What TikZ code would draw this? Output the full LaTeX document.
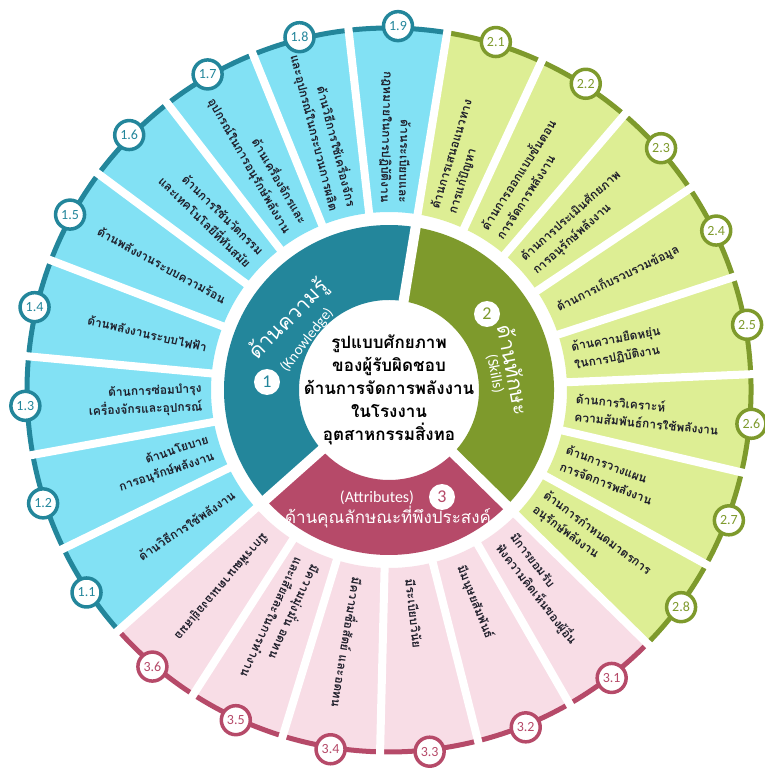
\documentclass[tikz,border=0pt]{standalone}
\usepackage{fontspec}
\setmainfont{Carlito}
\newfontfamily\thai[Script=Thai]{Loma}
\definecolor{kdark}{HTML}{23869B}
\definecolor{klight}{HTML}{82E1F4}
\definecolor{sdark}{HTML}{7E9A2C}
\definecolor{slight}{HTML}{DDEE94}
\definecolor{adark}{HTML}{B64A69}
\definecolor{alight}{HTML}{F8DDE6}
\definecolor{txt}{HTML}{1E1E2A}
\begin{document}
\begin{tikzpicture}[
  wtext/.style={font=\thai\bfseries\fontsize{12}{18}\selectfont, text=txt, inner sep=0pt},
  numc/.style={circle, fill=white, line width=3.5pt, minimum size=29pt, inner sep=0pt, font=\fontsize{14}{14}\selectfont},
  ringnum/.style={circle, fill=white, minimum size=26pt, inner sep=0pt, font=\fontsize{18}{18}\selectfont},
  ringth/.style={font=\thai\fontsize{21}{21}\selectfont, text=white, inner sep=0pt},
  ringen/.style={font=\fontsize{15}{15}\selectfont, text=white, inner sep=0pt},
  sep/.style={white, line width=8pt},
]
\fill[white] (-389pt,-386pt) rectangle (375pt,390pt);
\useasboundingbox (-389pt,-386pt) rectangle (375pt,390pt);

% middle ring
\fill[kdark] (80.69:90pt) arc[start angle=80.69, end angle=221.63, radius=90pt] -- (221.63:165pt) arc[start angle=221.63, end angle=80.69, radius=165pt] -- cycle;
\fill[sdark] (-44.46:90pt) arc[start angle=-44.46, end angle=80.69, radius=90pt] -- (80.69:165pt) arc[start angle=80.69, end angle=-44.46, radius=165pt] -- cycle;
\fill[adark] (221.63:90pt) arc[start angle=221.63, end angle=315.54, radius=90pt] -- (315.54:165pt) arc[start angle=315.54, end angle=221.63, radius=165pt] -- cycle;
\foreach \bb in {80.69,221.63,-44.46}{
  \draw[white, line width=10pt] (\bb:80pt) -- (\bb:172pt);
}

% outer wedges
\foreach \k in {0,...,22}{
  \pgfmathsetmacro\ang{213.8-15.652*\k}
  \pgfmathsetmacro\sa{\ang+7.826}
  \pgfmathsetmacro\ea{\ang-7.826}
  \ifnum\k<9 \def\wc{klight}\else\ifnum\k<17 \def\wc{slight}\else\def\wc{alight}\fi\fi
  \fill[\wc] (\sa:178pt) arc[start angle=\sa, end angle=\ea, radius=178pt] -- (\ea:361pt) arc[start angle=\ea, end angle=\sa, radius=361pt] -- cycle;
}
% outer arcs
\draw[kdark, line width=5pt] (221.63:362pt) arc[start angle=221.63, end angle=80.69, radius=362pt];
\draw[sdark, line width=5pt] (80.69:362pt) arc[start angle=80.69, end angle=-44.46, radius=362pt];
\draw[adark, line width=5pt] (-44.46:362pt) arc[start angle=-44.46, end angle=-138.37, radius=362pt];
% separators
\foreach \j in {0,...,22}{
  \pgfmathsetmacro\bb{221.626-15.652*\j}
  \draw[sep] (\bb:172pt) -- (\bb:372pt);
}

% group 1 texts and circles
\foreach \k/\nm/\txt in {
  0/1.1/{ด้านวิธีการใช้พลังงาน},
  1/1.2/{ด้านนโยบาย\\การอนุรักษ์พลังงาน},
  2/1.3/{ด้านการซ่อมบำรุง\\เครื่องจักรและอุปกรณ์},
  3/1.4/{ด้านพลังงานระบบไฟฟ้า},
  4/1.5/{ด้านพลังงานระบบความร้อน},
  5/1.6/{ด้านการใช้นวัตกรรม\\และเทคโนโลยีที่ทันสมัย},
  6/1.7/{ด้านเครื่องจักรและ\\อุปกรณ์ในการอนุรักษ์พลังงาน},
  7/1.8/{ด้านวิธีการใช้เครื่องจักร\\และอุปกรณ์ในกระบวนการผลิต},
  8/1.9/{ด้านระเบียบและ\\กฎหมายในการปฏิบัติงาน}}{
  \pgfmathsetmacro\ang{213.8-15.652*\k}
  \node[wtext, rotate=\ang-180, anchor=east, align=right] (t\k) at (\ang:187pt) {\txt};
  \node[numc, draw=kdark, text=kdark] (c\k) at (\ang:364pt) {\nm};
}
% group 2
\foreach \k/\nm/\txt in {
  9/2.1/{ด้านการเสนอแนวทาง\\การแก้ปัญหา},
  10/2.2/{ด้านการออกแบบขั้นตอน\\การจัดการพลังงาน},
  11/2.3/{ด้านการประเมินศักยภาพ\\การอนุรักษ์พลังงาน},
  12/2.4/{ด้านการเก็บรวบรวมข้อมูล},
  13/2.5/{ด้านความยืดหยุ่น\\ในการปฏิบัติงาน},
  14/2.6/{ด้านการวิเคราะห์\\ความสัมพันธ์การใช้พลังงาน},
  15/2.7/{ด้านการวางแผน\\การจัดการพลังงาน},
  16/2.8/{ด้านการกำหนดมาตรการ\\อนุรักษ์พลังงาน}}{
  \pgfmathsetmacro\ang{213.8-15.652*\k}
  \node[wtext, rotate=\ang, anchor=west, align=left] (t\k) at (\ang:187pt) {\txt};
  \node[numc, draw=sdark, text=sdark] (c\k) at (\ang:364pt) {\nm};
}
% group 3
\foreach \k/\nm/\txt in {
  17/3.1/{มีการยอมรับ\\ฟังความคิดเห็นของผู้อื่น},
  18/3.2/{มีมนุษยสัมพันธ์},
  19/3.3/{มีระเบียบวินัย},
  20/3.4/{มีความซื่อสัตย์ และอดทน},
  21/3.5/{มีความมุ่งมั่น อดทน\\และเสียสละในการทำงาน},
  22/3.6/{มีการพัฒนาตนเองอยู่เสมอ}}{
  \pgfmathsetmacro\ang{213.8-15.652*\k}
  \node[wtext, rotate=\ang, anchor=west, align=left] (t\k) at (\ang:190pt) {\txt};
  \node[numc, draw=adark, text=adark] (c\k) at (\ang:364pt) {\nm};
}

% centre
\node[font=\thai\bfseries\fontsize{17}{23}\selectfont, align=center, text=black] (ctr) at (0pt,0pt)
  {รูปแบบศักยภาพ\\ของผู้รับผิดชอบ\\ด้านการจัดการพลังงาน\\ในโรงงาน\\อุตสาหกรรมสิ่งทอ};

% ring labels
\node[ringth, rotate=45] (kl) at (-100pt,70pt) {ด้านความรู้};
\node[ringen, rotate=52] (ke) at (-82pt,50pt) {(Knowledge)};
\node[ringnum, text=kdark] (n1) at (-122pt,8pt) {1};

\node[ringth, rotate=-79] (sl) at (125pt,20pt) {ด้านทักษะ};
\node[ringen, rotate=-79] (se) at (106pt,16pt) {(Skills)};
\node[ringnum, text=sdark] (n2) at (98pt,76pt) {2};

\node[ringen, font=\fontsize{16}{16}\selectfont] (ae) at (-12pt,-108pt) {(Attributes)};
\node[ringth, font=\thai\fontsize{17}{17}\selectfont] (al) at (-1pt,-127pt) {ด้านคุณลักษณะที่พึงประสงค์};
\node[ringnum, text=adark] (n3) at (53pt,-107pt) {3};
\end{tikzpicture}
\end{document}
